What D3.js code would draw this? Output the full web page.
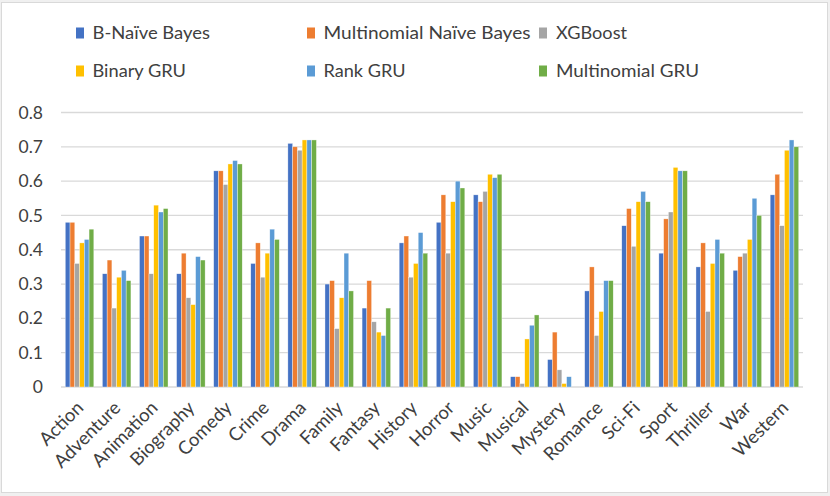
<!DOCTYPE html>
<html><head><meta charset="utf-8">
<script src="https://cdn.jsdelivr.net/npm/d3@7"></script>
<style>
html,body{margin:0;padding:0;background:#fff;}
svg{display:block;font-family:Lato,"Open Sans",sans-serif;}
</style></head>
<body>
<svg id="chart" width="830" height="496"></svg>
<script>
const cats = ["Action","Adventure","Animation","Biography","Comedy","Crime","Drama","Family","Fantasy","History","Horror","Music","Musical","Mystery","Romance","Sci-Fi","Sport","Thriller","War","Western"];

const seriesNames = ["B-Naïve Bayes","Multinomial Naïve Bayes","XGBoost","Binary GRU","Rank GRU","Multinomial GRU"];
const seriesColors = ["#4472C4","#ED7D31","#A5A5A5","#FFC000","#5B9BD5","#70AD47"];

const bNaiveBayes      = [0.48,0.33,0.44,0.33,0.63,0.36,0.71,0.30,0.23,0.42,0.48,0.56,0.03,0.08,0.28,0.47,0.39,0.35,0.34,0.56];
const multiNaiveBayes  = [0.48,0.37,0.44,0.39,0.63,0.42,0.70,0.31,0.31,0.44,0.56,0.54,0.03,0.16,0.35,0.52,0.49,0.42,0.38,0.62];
const xgboost          = [0.36,0.23,0.33,0.26,0.59,0.32,0.69,0.17,0.19,0.32,0.39,0.57,0.01,0.05,0.15,0.41,0.51,0.22,0.39,0.47];
const binaryGRU        = [0.42,0.32,0.53,0.24,0.65,0.39,0.72,0.26,0.16,0.36,0.54,0.62,0.14,0.01,0.22,0.54,0.64,0.36,0.43,0.69];
const rankGRU          = [0.43,0.34,0.51,0.38,0.66,0.46,0.72,0.39,0.15,0.45,0.60,0.61,0.18,0.03,0.31,0.57,0.63,0.43,0.55,0.72];
const multinomialGRU   = [0.46,0.31,0.52,0.37,0.65,0.43,0.72,0.28,0.23,0.39,0.58,0.62,0.21,0.00,0.31,0.54,0.63,0.39,0.50,0.70];

const yTicks = [0,0.1,0.2,0.3,0.4,0.5,0.6,0.7,0.8];

const seriesValues = [bNaiveBayes, multiNaiveBayes, xgboost, binaryGRU, rankGRU, multinomialGRU];
const rows = cats.map((c,i)=>({cat:c, vals: seriesNames.map((s,j)=>({series:s, idx:j, value: seriesValues[j][i]}))}));

const svg = d3.select("#chart");
const W = 830, H = 496;
const plotL = 61, plotR = 803, yTop = 112.5, yBot = 387;

// frame
svg.append("rect").attr("x",0).attr("y",0).attr("width",W).attr("height",H).attr("fill","#f0f0f0");
svg.append("rect").attr("x",1.5).attr("y",2.5).attr("width",826).attr("height",490)
  .attr("fill","#fff").attr("stroke","#d9d9d9").attr("stroke-width",1);

const x0 = d3.scaleBand().domain(cats).range([plotL, plotR]).paddingInner(0).paddingOuter(0);
const x1 = d3.scaleBand().domain(seriesNames).range([0, x0.bandwidth()]).paddingInner(0).paddingOuter(0.9);
const y = d3.scaleLinear().domain([0,0.8]).range([yBot, yTop]);

// gridlines
svg.append("g").selectAll("line").data(yTicks).join("line")
  .attr("x1",plotL).attr("x2",plotR)
  .attr("y1",d=>y(d)).attr("y2",d=>y(d))
  .attr("stroke","#d9d9d9").attr("stroke-width",1.3);

// y axis labels
const yAxis = d3.axisLeft(y).tickValues(yTicks).tickSize(0).tickPadding(0).tickFormat(d=>d===0?"0":d3.format(".1f")(d));
const gy = svg.append("g").attr("transform",`translate(43,0)`).call(yAxis);
gy.select(".domain").remove();
gy.selectAll("text").attr("font-size",17.5).attr("fill","#404040").attr("font-family","Lato, sans-serif");

// bars
const groups = svg.append("g").selectAll("g").data(rows).join("g")
  .attr("transform",d=>`translate(${x0(d.cat)},0)`);
groups.selectAll("rect").data(d=>d.vals).join("rect")
  .attr("x",d=>x1(d.series))
  .attr("width",x1.bandwidth())
  .attr("y",d=>y(d.value))
  .attr("height",d=>y(0)-y(d.value))
  .attr("fill",d=>seriesColors[d.idx])
  .attr("stroke","#fff").attr("stroke-width",0.5).attr("stroke-opacity",0.7);

// x axis
const xAxis = d3.axisBottom(x0).tickSize(0).tickPadding(0);
const gx = svg.append("g").attr("transform",`translate(0,${yBot})`).call(xAxis);
gx.select(".domain").remove();
gx.selectAll("text")
  .attr("font-size",18.5).attr("fill","#404040").attr("font-family","Lato, sans-serif")
  .attr("text-anchor","end")
  .attr("dy","0")
  .attr("transform","translate(5,22) rotate(-45)");

// legend
const legendPos = [
  {x:76, y:33, tx:92.5, w:117.5},
  {x:307, y:33, tx:323.5, w:207},
  {x:539, y:33, tx:556, w:71},
  {x:76, y:71, tx:92.5, w:93.5},
  {x:307, y:71, tx:323.5, w:82},
  {x:539, y:71, tx:556, w:143}
];
const lg = svg.append("g").selectAll("g").data(seriesNames).join("g");
lg.append("rect")
  .attr("x",(d,i)=>legendPos[i].x).attr("y",(d,i)=>legendPos[i].y-5.5)
  .attr("width",8).attr("height",11)
  .attr("fill",(d,i)=>seriesColors[i]);
lg.append("text")
  .attr("x",(d,i)=>legendPos[i].tx).attr("y",(d,i)=>legendPos[i].y+6)
  .attr("font-size",17).attr("fill","#404040")
  .attr("textLength",(d,i)=>legendPos[i].w).attr("lengthAdjust","spacingAndGlyphs")
  .text(d=>d);
</script>
</body></html>
